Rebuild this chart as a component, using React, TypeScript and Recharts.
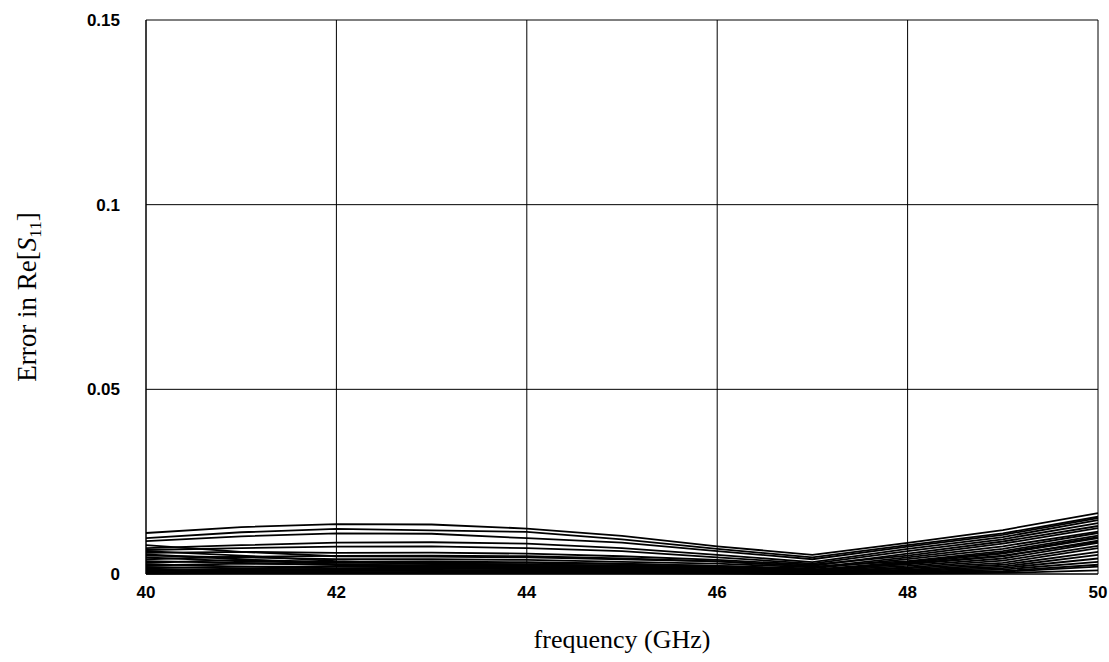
import { LineChart, Line, XAxis, YAxis, CartesianGrid } from 'recharts'

// frequency points (GHz)
const freq = [40, 41, 42, 43, 44, 45, 46, 47, 48, 49, 50]

// error curves, one per run
const s01 = [0.0111, 0.0127, 0.0135, 0.0134, 0.0123, 0.0103, 0.0075, 0.0052, 0.0084, 0.0119, 0.0165]
const s02 = [0.0097, 0.0113, 0.0122, 0.0118, 0.0114, 0.0094, 0.0068, 0.0045, 0.0078, 0.011, 0.0155]
const s03 = [0.0089, 0.0102, 0.011, 0.0109, 0.0097, 0.0085, 0.0062, 0.004, 0.0074, 0.0106, 0.0151]
const s04 = [0.007, 0.0078, 0.0085, 0.0086, 0.0082, 0.007, 0.0052, 0.0032, 0.0068, 0.01, 0.0146]
const s05 = [0.0065, 0.007, 0.0074, 0.0075, 0.007, 0.0062, 0.0045, 0.0028, 0.0062, 0.0094, 0.0138]
const s06 = [0.0078, 0.006, 0.0048, 0.0047, 0.0045, 0.004, 0.0034, 0.0022, 0.0055, 0.0088, 0.013]
const s07 = [0.0057, 0.006, 0.0057, 0.0058, 0.0055, 0.0048, 0.0038, 0.0025, 0.005, 0.0082, 0.0124]
const s08 = [0.005, 0.0045, 0.004, 0.004, 0.0038, 0.0033, 0.0028, 0.0018, 0.0045, 0.0075, 0.0115]
const s09 = [0.0045, 0.0034, 0.003, 0.0031, 0.003, 0.0027, 0.0022, 0.0015, 0.004, 0.0068, 0.0111]
const s10 = [0.004, 0.0047, 0.0049, 0.005, 0.0048, 0.0042, 0.0034, 0.002, 0.0035, 0.0062, 0.0104]
const s11 = [0.0035, 0.003, 0.0024, 0.0024, 0.0022, 0.002, 0.0016, 0.001, 0.003, 0.0055, 0.0097]
const s12 = [0.003, 0.0038, 0.0033, 0.0034, 0.0032, 0.0028, 0.0022, 0.0012, 0.0026, 0.0048, 0.009]
const s13 = [0.0027, 0.002, 0.0016, 0.0017, 0.0018, 0.0017, 0.0014, 0.0008, 0.0022, 0.0042, 0.0084]
const s14 = [0.0023, 0.0028, 0.0026, 0.0028, 0.0026, 0.0022, 0.0017, 0.0006, 0.0018, 0.0036, 0.0076]
const s15 = [0.0019, 0.0015, 0.0012, 0.0013, 0.0014, 0.0012, 0.001, 0.0005, 0.0015, 0.003, 0.007]
const s16 = [0.0015, 0.002, 0.002, 0.0021, 0.002, 0.0016, 0.0012, 0.0004, 0.0012, 0.0025, 0.006]
const s17 = [0.0012, 0.0009, 0.0008, 0.0009, 0.001, 0.0009, 0.0007, 0.0003, 0.001, 0.002, 0.0052]
const s18 = [0.0009, 0.0013, 0.0014, 0.0015, 0.0013, 0.0011, 0.0008, 0.0002, 0.0008, 0.0016, 0.0042]
const s19 = [0.0006, 0.0005, 0.0005, 0.0006, 0.0007, 0.0006, 0.0005, 0.0002, 0.0006, 0.0012, 0.0033]
const s20 = [0.0004, 0.0008, 0.0009, 0.0009, 0.0008, 0.0007, 0.0005, 0.0001, 0.0004, 0.0008, 0.0025]
const s21 = [0.0002, 0.0003, 0.0003, 0.0003, 0.0004, 0.0003, 0.0003, 0.0001, 0.0003, 0.0006, 0.002]
const s22 = [0.0001, 0.0002, 0.0002, 0.0002, 0.0002, 0.0002, 0.0001, 0.0, 0.0001, 0.0003, 0.001]
const s23 = [0.0062, 0.005, 0.0035, 0.0027, 0.0025, 0.0023, 0.0019, 0.0012, 0.0033, 0.0058, 0.01]
const s24 = [0.0053, 0.004, 0.0026, 0.0019, 0.0016, 0.0015, 0.0013, 0.0007, 0.0028, 0.005, 0.0087]

const series = [s01, s02, s03, s04, s05, s06, s07, s08, s09, s10, s11, s12,
  s13, s14, s15, s16, s17, s18, s19, s20, s21, s22, s23, s24]

const xTicks = [40, 42, 44, 46, 48, 50]
const yTicks = [0, 0.05, 0.1, 0.15]

const data = freq.map((f, i) => {
  const row: Record<string, number> = { f }
  series.forEach((s, j) => { row[`s${j}`] = s[i] })
  return row
})

const tickStyle = { fontFamily: 'Liberation Sans, Arial, sans-serif', fontWeight: 700, fontSize: 17, fill: '#000' }
const labelFont = 'Liberation Serif, Times New Roman, serif'

function YLabel() {
  return (
    <text
      x={0}
      y={0}
      transform="translate(36, 297) rotate(-90)"
      textAnchor="middle"
      fontFamily={labelFont}
      fontSize={27}
      fill="#000"
    >
      Error in Re[<tspan fontStyle="italic">S</tspan>
      <tspan fontSize={17} dy={5}>11</tspan>
      <tspan dy={-5}>]</tspan>
    </text>
  )
}

export default function App() {
  return (
    <div style={{ position: 'absolute', left: 0, top: 0, background: '#fff' }}>
      <LineChart width={1109} height={662} data={data} margin={{ top: 20, right: 11, left: 0, bottom: 0 }}>
        <CartesianGrid stroke="#000" strokeWidth={1} />
        <XAxis
          dataKey="f"
          type="number"
          domain={[40, 50]}
          ticks={xTicks}
          tickLine={false}
          axisLine={{ stroke: '#000' }}
          tick={tickStyle}
          tickMargin={6}
          height={88}
          label={{ value: 'frequency (GHz)', position: 'insideBottom', offset: 14, style: { fontFamily: labelFont, fontSize: 26, fill: '#000' } }}
        />
        <YAxis
          type="number"
          domain={[0, 0.15]}
          ticks={yTicks}
          tickLine={false}
          axisLine={{ stroke: '#000' }}
          tick={tickStyle}
          tickMargin={20}
          width={146}
          tickFormatter={(v: number) => String(v)}
          label={{ content: () => <YLabel /> }}
        />
        {series.map((_, j) => (
          <Line
            key={j}
            type="linear"
            dataKey={`s${j}`}
            stroke="#000"
            strokeWidth={1.8}
            dot={false}
            activeDot={false}
            isAnimationActive={false}
          />
        ))}
      </LineChart>
    </div>
  )
}
